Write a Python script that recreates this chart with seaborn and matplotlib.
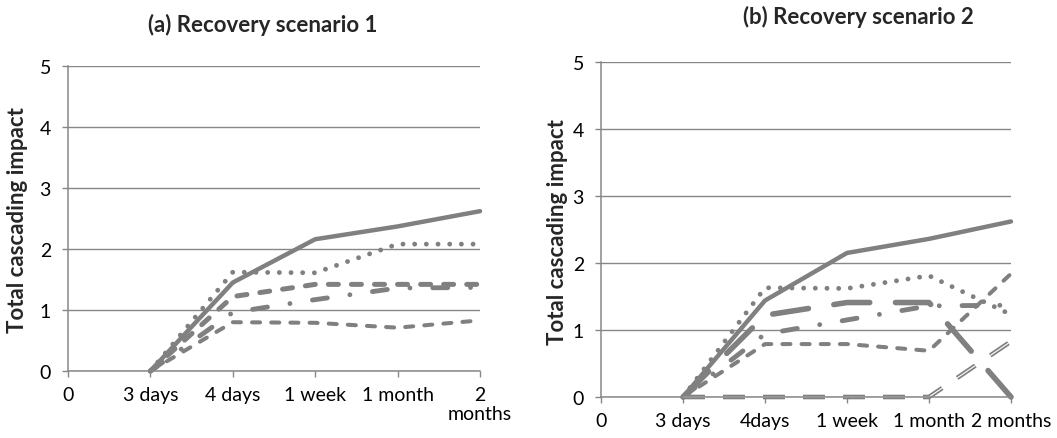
import numpy as np
import matplotlib
matplotlib.use("Agg")
import matplotlib.pyplot as plt
import seaborn as sns

# x categories for the two panels
labels_a = ["0", "3 days", "4 days", "1 week", "1 month", "2\nmonths"]
labels_b = ["0", "3 days", "4days", "1 week", "1 month", "2 months"]

# panel (a) recovery scenario 1
solid_a = [np.nan, 0, 1.45, 2.16, 2.37, 2.62]
dotted_a = [np.nan, 0, 1.62, 1.61, 2.08, 2.08]
dash_a = [np.nan, 0, 1.22, 1.42, 1.42, 1.42]
dashdot_a = [np.nan, 0, 0.96, 1.17, 1.36, 1.37]
short_a = [np.nan, 0, 0.80, 0.79, 0.71, 0.83]

# panel (b) recovery scenario 2
solid_b = [np.nan, 0, 1.44, 2.15, 2.36, 2.62]
dotted_b = [np.nan, 0, 1.63, 1.62, 1.81, 1.23]
longdash_b = [np.nan, 0, 1.22, 1.41, 1.41, 0]
dashdot_b = [np.nan, 0, 0.94, 1.15, 1.36, 1.37]
short_b = [np.nan, 0, 0.79, 0.79, 0.69, 1.84]
double_b = [np.nan, 0, 0, 0, 0, 0.83]

sns.set_style("white")
plt.rcParams["font.family"] = ["Lato", "DejaVu Sans"]
plt.rcParams["lines.scale_dashes"] = False

GREY = "#808080"
AXGREY = "#878787"

# line styles
S_SOLID = dict(linewidth=3.2, linestyle="-", solid_capstyle="round")
S_DOT = dict(linewidth=3.5, linestyle=(0, (0.01, 8.4)), dash_capstyle="round")
S_DASH = dict(linewidth=3.6, linestyle=(0, (7.2, 9.4)), dash_capstyle="round")
S_DASHDOT = dict(linewidth=3.5, linestyle=(0, (10.8, 16.4, 0.01, 16.4)), dash_capstyle="round")
S_SHORT = dict(linewidth=2.9, linestyle=(0, (5.8, 8.0)), dash_capstyle="round")
S_LONG = dict(linewidth=4.0, linestyle=(0, (26, 18.5)), dash_capstyle="round")
S_DOUBLE = dict(linewidth=3.3, linestyle=(0, (15.8, 13)), dash_capstyle="butt")


def line(ax, ys, style, color=GREY, z=2):
    x = np.arange(len(ys))
    sns.lineplot(x=x, y=ys, ax=ax, color=color, legend=False,
                 clip_on=False, zorder=z, **style)


def style_axes(ax, labels):
    ax.set_xlim(0, len(labels) - 1)
    ax.set_ylim(0, 5)
    ax.set_xticks(range(len(labels)))
    ax.set_xticklabels(labels, fontsize=14, color="black", linespacing=1.15)
    ax.set_yticks(range(6))
    ax.set_yticklabels([str(v) for v in range(6)], fontsize=14, color="black")
    ax.yaxis.grid(True, color=AXGREY, linewidth=1.0)
    ax.xaxis.grid(False)
    ax.set_axisbelow(True)
    for s in ["top", "right"]:
        ax.spines[s].set_visible(False)
    for s in ["left", "bottom"]:
        ax.spines[s].set_color(AXGREY)
        ax.spines[s].set_linewidth(1.1)
        ax.spines[s].set_zorder(3)
    ax.tick_params(axis="y", direction="out", length=4.3, width=1.0,
                   color=AXGREY, pad=8, left=True)
    ax.tick_params(axis="x", direction="out", length=4, width=1.0,
                   color=AXGREY, pad=7, bottom=True)
    ax.set_xlabel("")
    ax.set_ylabel("")


fig = plt.figure(figsize=(10.57, 4.39), dpi=100)
ax1 = fig.add_axes([68 / 1057, 67 / 439, 412 / 1057, 305 / 439])
ax2 = fig.add_axes([601 / 1057, 41 / 439, 410 / 1057, 335 / 439])

line(ax1, short_a, S_SHORT)
line(ax1, dashdot_a, S_DASHDOT)
line(ax1, dash_a, S_DASH)
line(ax1, dotted_a, S_DOT)
line(ax1, solid_a, S_SOLID)
style_axes(ax1, labels_a)

# double (compound) line: grey stroke with a thin white core
line(ax2, double_b, S_DOUBLE)
inner = dict(S_DOUBLE, linewidth=0.8)
line(ax2, double_b, inner, color="white", z=2.1)
line(ax2, short_b, S_SHORT)
line(ax2, dashdot_b, S_DASHDOT)
line(ax2, longdash_b, S_LONG)
line(ax2, dotted_b, S_DOT)
line(ax2, solid_b, S_SOLID)
style_axes(ax2, labels_b)

fig.text(263 / 1057, 1 - 25 / 439, "(a) Recovery scenario 1", ha="center", va="center",
         fontsize=16, fontweight="bold")
fig.text(858 / 1057, 1 - 17 / 439, "(b) Recovery scenario 2", ha="center", va="center",
         fontsize=16, fontweight="bold")
fig.text(18 / 1057, 1 - 220 / 439, "Total cascading impact", rotation=90,
         ha="center", va="center", fontsize=16, fontweight="bold")
fig.text(558 / 1057, 1 - 232 / 439, "Total cascading impact", rotation=90,
         ha="center", va="center", fontsize=16, fontweight="bold")

fig.savefig("out.png", dpi=100)
